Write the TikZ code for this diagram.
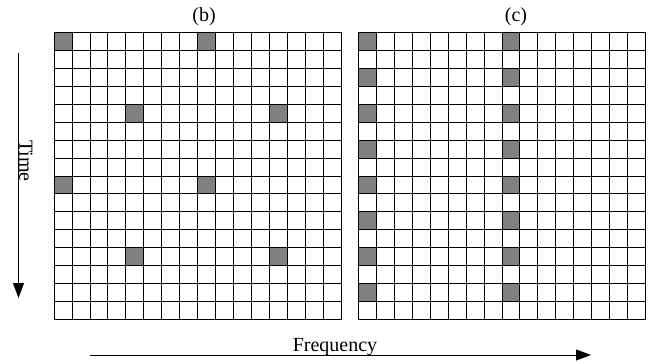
\documentclass[tikz,border=0pt]{standalone}
\usepackage{fontspec}
\setmainfont{Liberation Serif}
\usetikzlibrary{arrows.meta}
\begin{document}
\begin{tikzpicture}[x=1pt,y=-1pt,
  cellfill/.style={fill={rgb,255:red,128;green,128;blue,128}},
  gridline/.style={draw=black,line width=0.8pt},
  lbl/.style={font=\fontsize{20}{22}\selectfont, inner sep=0pt},
  axis/.style={line width=0.8pt,-{Triangle[length=15pt,width=11pt]}}]
\useasboundingbox (0,0) rectangle (649,362);
\def\cs{17.95}
% grid (b)
\foreach \c/\r in {0/0,8/0,4/4,12/4,0/8,8/8,4/12,12/12}
  \fill[cellfill] ({54+\c*\cs},{32.3+\r*\cs}) rectangle ++(\cs,\cs);
\foreach \i in {0,...,16} {
  \draw[gridline] ({54+\i*\cs},32.3) -- ({54+\i*\cs},{32.3+16*\cs});
  \draw[gridline] (54,{32.3+\i*\cs}) -- ({54+16*\cs},{32.3+\i*\cs});
}
% grid (c)
\foreach \c in {0,8}
  \foreach \r in {0,2,...,14}
    \fill[cellfill] ({358.3+\c*\cs},{32.3+\r*\cs}) rectangle ++(\cs,\cs);
\foreach \i in {0,...,16} {
  \draw[gridline] ({358.3+\i*\cs},32.3) -- ({358.3+\i*\cs},{32.3+16*\cs});
  \draw[gridline] (358.3,{32.3+\i*\cs}) -- ({358.3+16*\cs},{32.3+\i*\cs});
}
% labels
\node[lbl,anchor=base] (lb) at (204,21) {(b)};
\node[lbl,anchor=base] (lc) at (516,21) {(c)};
\node[lbl,anchor=base,rotate=-90] (time) at (19.5,161) {Time};
\node[lbl,anchor=base] (freq) at (335,351.5) {Frequency};
% axes
\coordinate (ts) at (18.5,53);
\coordinate (te) at (18.5,298);
\draw[axis] (ts) -- (te);
\coordinate (fs) at (90,355);
\coordinate (fe) at (591,355);
\draw[axis] (fs) -- (fe);
\end{tikzpicture}
\end{document}
